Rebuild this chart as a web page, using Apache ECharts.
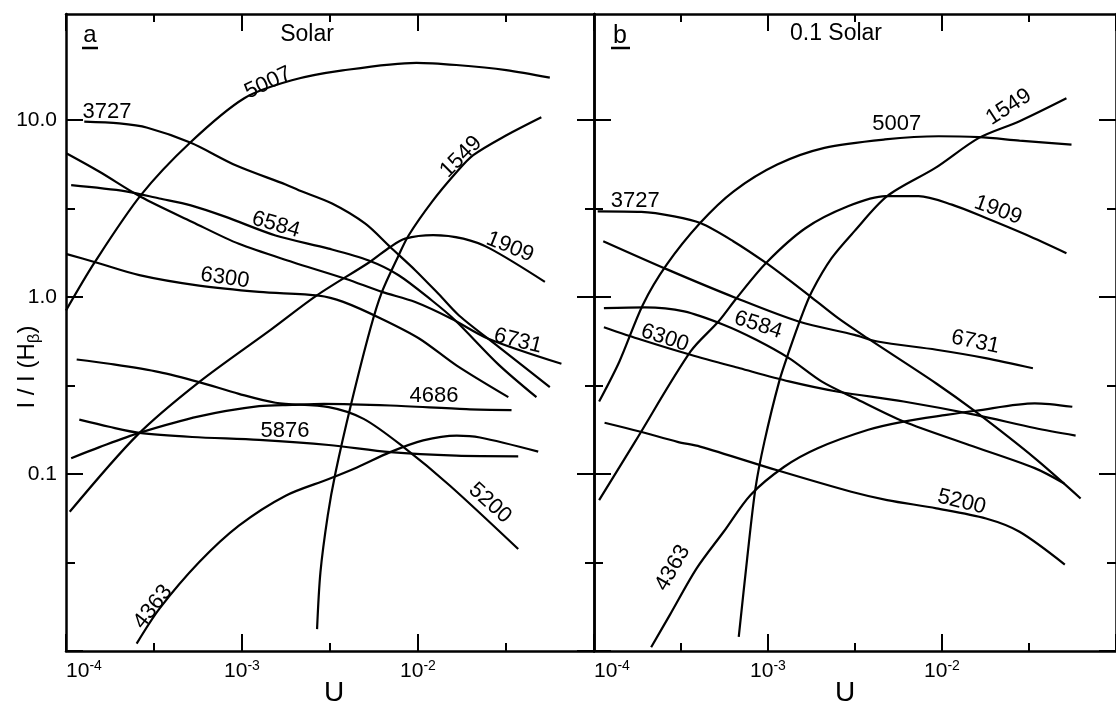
<!DOCTYPE html>
<html>
<head>
<meta charset="utf-8">
<script src="https://cdn.jsdelivr.net/npm/echarts@6/dist/echarts.min.js"></script>
<style>html,body{margin:0;padding:0;background:#fff}#c{width:1116px;height:704px}</style>
</head>
<body>
<div id="c"></div>
<script>
// ---------------- Panel a : Solar ----------------
const a5007U = [1.0e-4, 1.46e-4, 2.67e-4, 5.1e-4, 1.03e-3, 1.92e-3, 3.73e-3, 9.8e-3, 1.65e-2, 3.17e-2, 5.61e-2];
const a5007I = [0.84, 1.58, 3.78, 7.5, 13.3, 16.8, 19.1, 21.1, 20.5, 19.2, 17.4];
const a3727U = [1.27e-4, 2.01e-4, 2.9e-4, 5.12e-4, 9.2e-4, 1.77e-3, 2.10e-3, 3.25e-3, 5.02e-3, 6.95e-3, 9.64e-3, 1.31e-2, 1.71e-2, 2.86e-2, 5.61e-2];
const a3727I = [9.8, 9.58, 9.06, 7.45, 5.56, 4.33, 4.02, 3.38, 2.60, 1.92, 1.42, 1.04, 0.787, 0.525, 0.31];
const a6731U = [1.01e-4, 1.55e-4, 2.67e-4, 5.22e-4, 9.6e-4, 1.93e-3, 3.87e-3, 6.24e-3, 9.64e-3, 1.55e-2, 2.51e-2, 6.53e-2];
const a6731I = [6.48, 5.11, 3.68, 2.66, 2.00, 1.58, 1.27, 1.07, 0.938, 0.755, 0.582, 0.42];
const a6584U = [1.07e-4, 2.19e-4, 3.39e-4, 5.12e-4, 8.09e-4, 1.55e-3, 3.11e-3, 5.25e-3, 7.76e-3, 1.20e-2, 1.63e-2, 2.86e-2, 4.71e-2];
const a6584I = [4.29, 3.96, 3.61, 3.30, 2.84, 2.23, 1.88, 1.61, 1.33, 0.957, 0.738, 0.417, 0.272];
const a6300U = [1.01e-4, 1.45e-4, 2.61e-4, 5.7e-4, 1.25e-3, 2.73e-3, 3.76e-3, 6.19e-3, 1.02e-2, 1.66e-2, 3.26e-2];
const a6300I = [1.75, 1.58, 1.33, 1.16, 1.07, 1.02, 0.94, 0.755, 0.582, 0.41, 0.272];
const a1909U = [1.05e-4, 2.54e-4, 5.7e-4, 1.48e-3, 2.65e-3, 5.32e-3, 6.95e-3, 8.45e-3, 1.22e-2, 1.81e-2, 2.57e-2, 5.26e-2];
const a1909I = [0.0612, 0.166, 0.331, 0.662, 1.02, 1.58, 1.92, 2.14, 2.24, 2.14, 1.88, 1.22];
const a1549U = [2.67e-3, 2.79e-3, 3.07e-3, 3.40e-3, 4.15e-3, 5.36e-3, 6.24e-3, 7.76e-3, 8.84e-3, 1.20e-2, 1.63e-2, 2.06e-2, 3.18e-2, 5.02e-2];
const a1549I = [0.0133, 0.0278, 0.0582, 0.102, 0.244, 0.662, 1.07, 1.72, 2.23, 3.45, 4.99, 6.34, 8.22, 10.4];
const a4686U = [1.07e-4, 1.55e-4, 2.61e-4, 5.7e-4, 1.25e-3, 1.93e-3, 2.92e-3, 6.95e-3, 1.88e-2, 3.40e-2];
const a4686I = [0.123, 0.142, 0.171, 0.212, 0.242, 0.246, 0.249, 0.244, 0.233, 0.230];
const a5200U = [1.15e-4, 1.76e-4, 3.39e-4, 5.7e-4, 9.6e-4, 1.55e-3, 3.11e-3, 4.91e-3, 8.28e-3, 1.52e-2, 3.71e-2];
const a5200I = [0.444, 0.420, 0.377, 0.331, 0.284, 0.253, 0.239, 0.205, 0.142, 0.0859, 0.0377];
const a5876U = [1.19e-4, 1.76e-4, 2.61e-4, 5.21e-4, 1.25e-3, 3.11e-3, 6.95e-3, 1.65e-2, 3.71e-2];
const a5876I = [0.203, 0.185, 0.171, 0.162, 0.156, 0.146, 0.133, 0.127, 0.126];
const a4363U = [2.52e-4, 3.39e-4, 5.7e-4, 9.6e-4, 1.77e-3, 3.11e-3, 4.50e-3, 6.95e-3, 1.07e-2, 1.66e-2, 2.25e-2, 4.82e-2];
const a4363I = [0.0110, 0.0173, 0.0317, 0.0511, 0.0755, 0.0938, 0.109, 0.133, 0.155, 0.165, 0.161, 0.134];

// ---------------- Panel b : 0.1 Solar ----------------
const b5007U = [1.07e-4, 1.40e-4, 1.91e-4, 2.61e-4, 4.07e-4, 6.35e-4, 1.13e-3, 2.11e-3, 4.70e-3, 9.57e-3, 1.63e-2, 2.79e-2, 5.55e-2];
const b5007I = [0.257, 0.433, 0.906, 1.52, 2.62, 3.96, 5.61, 6.97, 7.78, 8.11, 8.01, 7.67, 7.28];
const b3727U = [1.05e-4, 1.87e-4, 2.89e-4, 4.09e-4, 6.31e-4, 9.75e-4, 1.32e-3, 1.75e-3, 2.53e-3, 3.73e-3, 9.27e-3, 1.56e-2, 3.41e-2, 6.26e-2];
const b3727I = [3.05, 3.03, 2.86, 2.62, 2.07, 1.56, 1.25, 1.01, 0.760, 0.586, 0.325, 0.225, 0.123, 0.0728];
const b6731U = [1.13e-4, 2.65e-4, 6.59e-4, 1.50e-3, 3.14e-3, 4.26e-3, 9.29e-3, 1.78e-2, 3.33e-2];
const b6731I = [2.07, 1.43, 0.986, 0.728, 0.612, 0.561, 0.504, 0.452, 0.396];
const b6584U = [1.14e-4, 1.96e-4, 3.30e-4, 5.55e-4, 8.55e-4, 1.32e-3, 2.03e-3, 3.14e-3, 6.02e-3, 1.43e-2, 3.41e-2, 5.04e-2];
const b6584I = [0.867, 0.875, 0.830, 0.698, 0.574, 0.452, 0.334, 0.269, 0.198, 0.146, 0.108, 0.0885];
const b6300U = [1.14e-4, 1.87e-4, 3.59e-4, 6.89e-4, 1.32e-3, 2.53e-3, 6.02e-3, 1.56e-2, 3.41e-2, 5.86e-2];
const b6300I = [0.676, 0.574, 0.472, 0.396, 0.334, 0.292, 0.257, 0.216, 0.182, 0.165];
const b1909U = [1.07e-4, 1.72e-4, 3.59e-4, 5.19e-4, 6.59e-4, 9.75e-4, 1.64e-3, 2.88e-3, 4.74e-3, 7.34e-3, 1.14e-2, 1.79e-2, 3.05e-2, 5.19e-2];
const b1909I = [0.0713, 0.152, 0.493, 0.728, 0.986, 1.56, 2.45, 3.26, 3.72, 3.72, 3.33, 2.80, 2.25, 1.77];
const b1549U = [6.79e-4, 7.59e-4, 8.47e-4, 9.53e-4, 1.16e-3, 1.32e-3, 1.57e-3, 1.79e-3, 2.32e-3, 3.14e-3, 4.84e-3, 9.16e-3, 1.63e-2, 2.79e-2, 5.19e-2];
const b1549I = [0.0120, 0.0333, 0.0830, 0.152, 0.334, 0.493, 0.794, 1.08, 1.66, 2.36, 3.72, 5.37, 7.94, 9.87, 13.3];
const b4363U = [2.13e-4, 2.73e-4, 3.89e-4, 5.56e-4, 7.94e-4, 1.24e-3, 1.93e-3, 3.77e-3, 6.02e-3, 1.06e-2, 1.56e-2, 3.41e-2, 5.61e-2];
const b4363I = [0.0105, 0.0160, 0.0293, 0.0472, 0.0762, 0.110, 0.140, 0.178, 0.198, 0.216, 0.228, 0.251, 0.240];
const b5200U = [1.15e-4, 1.83e-4, 3.02e-4, 4.07e-4, 1.13e-3, 3.01e-3, 4.84e-3, 9.29e-3, 1.79e-2, 2.79e-2, 5.08e-2];
const b5200I = [0.195, 0.174, 0.152, 0.143, 0.105, 0.0794, 0.0713, 0.0640, 0.0561, 0.0472, 0.0308];

// tick labels (exponents of ten) and y tick texts
const xTickExps = [-4, -3, -2];
const yTickTexts = { '1': '10.0', '0': '1.0', '-1': '0.1' };

// curve label placement (in log10 units of U and I/I(Hb))
const labelsA = [
  { t: '5007', x: -2.852, y: 1.210, r: 25 },
  { t: '3727', x: -3.767, y: 1.046, r: 0 },
  { t: '6584', x: -2.807, y: 0.408, r: -16 },
  { t: '6300', x: -3.097, y: 0.108, r: -8 },
  { t: '1549', x: -1.756, y: 0.792, r: 45 },
  { t: '1909', x: -1.477, y: 0.283, r: -22 },
  { t: '6731', x: -1.432, y: -0.248, r: -14 },
  { t: '4686', x: -1.909, y: -0.559, r: 0 },
  { t: '5876', x: -2.756, y: -0.757, r: 0 },
  { t: '5200', x: -1.591, y: -1.164, r: -42 },
  { t: '4363', x: -3.506, y: -1.751, r: 52 }
];
const labelsB = [
  { t: '3727', x: -3.763, y: 0.543, r: 0 },
  { t: '5007', x: -2.260, y: 0.978, r: 0 },
  { t: '1549', x: -1.616, y: 1.074, r: 33 },
  { t: '1909', x: -1.678, y: 0.492, r: -20 },
  { t: '6584', x: -3.056, y: -0.158, r: -18 },
  { t: '6300', x: -3.593, y: -0.231, r: -18 },
  { t: '6731', x: -1.808, y: -0.254, r: -12 },
  { t: '5200', x: -1.887, y: -1.158, r: -14 },
  { t: '4363', x: -3.548, y: -1.531, r: 60 }
];

const FONT = '"Liberation Sans", Arial, sans-serif';
const BLACK = '#000';

const curvesA = [
  [a5007U, a5007I], [a3727U, a3727I], [a6731U, a6731I], [a6584U, a6584I],
  [a6300U, a6300I], [a1909U, a1909I], [a1549U, a1549I], [a4686U, a4686I],
  [a5200U, a5200I], [a5876U, a5876I], [a4363U, a4363I]
];
const curvesB = [
  [b5007U, b5007I], [b3727U, b3727I], [b6731U, b6731I], [b6584U, b6584I],
  [b6300U, b6300I], [b1909U, b1909I], [b1549U, b1549I], [b4363U, b4363I],
  [b5200U, b5200I]
];

function lineSeries(U, I, xi, yi) {
  return {
    type: 'line', xAxisIndex: xi, yAxisIndex: yi,
    data: U.map((u, k) => [Math.log10(u), Math.log10(I[k])]),
    smooth: 0.3, showSymbol: false, symbol: 'none',
    lineStyle: { color: BLACK, width: 2.2 }, silent: true, z: 3, animation: false
  };
}
function labelSeries(spots, xi, yi) {
  return {
    type: 'scatter', xAxisIndex: xi, yAxisIndex: yi, symbolSize: 0, silent: true, z: 5,
    itemStyle: { opacity: 1, color: BLACK },
    label: { show: true, position: 'inside', color: BLACK, fontSize: 22, fontFamily: FONT, textBorderWidth: 0, opacity: 1 },
    data: spots.map(s => ({ value: [s.x, s.y], label: { formatter: s.t, rotate: s.r } }))
  };
}

function xAx(grid, pos, showLabel) {
  return {
    type: 'value', gridIndex: grid, position: pos, min: -4, max: -1, interval: 1,
    axisLine: { show: true, onZero: false, lineStyle: { color: BLACK, width: 2.5 } },
    axisTick: { show: true, inside: true, length: 17, lineStyle: { color: BLACK, width: 2 } },
    minorTick: { show: true, splitNumber: 2, length: 8, lineStyle: { color: BLACK, width: 2 } },
    splitLine: { show: false }, minorSplitLine: { show: false },
    axisLabel: {
      show: showLabel, margin: 8, showMinLabel: true, showMaxLabel: false,
      formatter: v => {
        const e = Math.round(v);
        if (Math.abs(v - e) > 1e-6 || xTickExps.indexOf(e) < 0) return '';
        return (e === -4 ? '{sp| }' : '') + '{b|10}{s|' + e + '}';
      },
      rich: {
        sp: { width: 36, fontSize: 21 },
        b: { fontSize: 21, fontFamily: FONT, color: BLACK, lineHeight: 24 },
        s: { fontSize: 14, fontFamily: FONT, color: BLACK, padding: [0, 0, 10, 0] }
      }
    }
  };
}
function yAx(grid, pos, major, showLabel) {
  return {
    type: 'value', gridIndex: grid, position: pos, min: -2, max: 1.6, interval: 1,
    axisLine: { show: major, onZero: false, lineStyle: { color: BLACK, width: 2.5 } },
    axisTick: {
      show: true, inside: true, length: major ? 17 : 9,
      customValues: major ? [-2, -1, 0, 1] : [-1.5, -0.5, 0.5],
      lineStyle: { color: BLACK, width: 2 }
    },
    minorTick: { show: false },
    splitLine: { show: false },
    axisLabel: {
      show: showLabel, margin: 9, color: BLACK, fontSize: 21, fontFamily: FONT,
      formatter: v => {
        const e = Math.round(v);
        if (Math.abs(v - e) > 1e-6) return '';
        return yTickTexts[String(e)] || '';
      }
    }
  };
}

const series = [];
curvesA.forEach(c => series.push(lineSeries(c[0], c[1], 0, 0)));
curvesB.forEach(c => series.push(lineSeries(c[0], c[1], 2, 4)));
series.push(labelSeries(labelsA, 0, 0));
series.push(labelSeries(labelsB, 2, 4));

function txt(x, y, text, size, extra) {
  return Object.assign({
    type: 'text', x: x, y: y, silent: true, z: 10,
    style: { text: text, fontSize: size, fontFamily: FONT, fill: BLACK, align: 'center', verticalAlign: 'middle' }
  }, extra || {});
}

const option = {
  animation: false,
  backgroundColor: '#fff',
  textStyle: { fontFamily: FONT, color: BLACK },
  grid: [
    { left: 66, top: 14, width: 528, height: 637 },
    { left: 594, top: 14, width: 531, height: 637 }
  ],
  xAxis: [xAx(0, 'bottom', true), xAx(0, 'top', false), xAx(1, 'bottom', true), xAx(1, 'top', false)],
  yAxis: [
    yAx(0, 'left', true, true), yAx(0, 'left', false, false),
    yAx(0, 'right', true, false), yAx(0, 'right', false, false),
    yAx(1, 'left', true, false), yAx(1, 'left', false, false),
    yAx(1, 'right', true, false), yAx(1, 'right', false, false)
  ],
  series: series,
  graphic: [
    txt(90, 35, 'a', 24),
    { type: 'line', silent: true, shape: { x1: 82, y1: 48, x2: 98, y2: 48 }, style: { stroke: BLACK, lineWidth: 2.5 } },
    txt(307, 35, 'Solar', 23),
    txt(620, 36, 'b', 25),
    { type: 'line', silent: true, shape: { x1: 611, y1: 48, x2: 630, y2: 48 }, style: { stroke: BLACK, lineWidth: 2.5 } },
    txt(836, 34, '0.1 Solar', 23),
    txt(334, 693, 'U', 28),
    txt(845, 693, 'U', 28),
    {
      type: 'text', x: 27, y: 367, rotation: Math.PI / 2, silent: true, z: 10,
      style: {
        text: '{m|I / I (H}{s|β}{m|)}', align: 'center', verticalAlign: 'middle', fill: BLACK,
        rich: {
          m: { fontSize: 24, fontFamily: FONT, fill: BLACK, lineHeight: 24 },
          s: { fontSize: 17, fontFamily: FONT, fill: BLACK, padding: [14, 0, 0, 0] }
        }
      }
    }
  ]
};

const chart = echarts.init(document.getElementById('c'), null, { renderer: 'canvas' });
chart.setOption(option);
</script>
</body>
</html>
